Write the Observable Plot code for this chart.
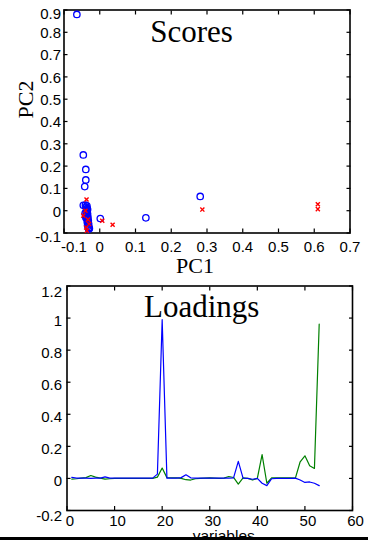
<!DOCTYPE html>
<html><head><meta charset="utf-8">
<script src="https://cdn.jsdelivr.net/npm/d3@7"></script>
<script src="https://cdn.jsdelivr.net/npm/@observablehq/plot@0.6"></script>
<style>
html,body{margin:0;padding:0;background:#fff;}
#wrap{position:relative;width:368px;height:540px;overflow:hidden;background:#fff;}
#topPlot{position:absolute;left:0;top:0;}
#botPlot{position:absolute;left:0;top:280px;}
#bar{position:absolute;left:0;top:537px;width:368px;height:3px;background:#000;}
</style></head><body>
<div id="wrap"><div id="topPlot"></div><div id="botPlot"></div><div id="bar"></div></div>
<script>
// ---- Scores data ----
const scoreX = [-0.064, -0.046, -0.039, -0.039, -0.042, -0.046, -0.040, -0.036, -0.038, -0.035, -0.034, -0.037, -0.038, -0.036, -0.034, -0.037, -0.035, -0.033, -0.036, -0.034, -0.032, -0.035, -0.033, -0.031, -0.034, -0.032, -0.030, -0.029, -0.031, -0.041, -0.039, 0.0015, 0.129, 0.281];
const scoreY = [0.88, 0.25, 0.185, 0.138, 0.108, 0.024, 0.025, 0.022, 0.015, 0.010, 0.005, 0.000, -0.005, -0.010, -0.015, -0.020, -0.025, -0.030, -0.035, -0.040, -0.045, -0.050, -0.055, -0.060, -0.065, -0.070, -0.075, -0.080, -0.082, -0.012, -0.030, -0.035, -0.032, 0.064];
const projX = [-0.037, -0.046, -0.040, -0.033, -0.036, -0.030, -0.038, 0.007, 0.036, 0.287, 0.61, 0.61];
const projY = [0.05, -0.022, 0.0, -0.04, -0.09, -0.06, -0.075, -0.045, -0.063, 0.005, 0.029, 0.007];
const scoreXTicks = [-0.1, 0, 0.1, 0.2, 0.3, 0.4, 0.5, 0.6, 0.7];
const scoreYTicks = [-0.1, 0, 0.1, 0.2, 0.3, 0.4, 0.5, 0.6, 0.7, 0.8, 0.9];

// ---- Loadings data (variables 1..53) ----
const loadBlue = [0.006, 0.002, 0.002, 0.002, 0.0, 0.002, 0.002, 0.01, 0.002, 0.002, 0.002, 0.002, 0.002, 0.002, 0.002, 0.002, 0.002, 0.002, 0.027, 0.99, 0.002, 0.002, 0.002, 0.005, 0.023, 0.004, 0.002, 0.002, 0.002, 0.002, 0.002, 0.002, 0.002, 0.002, 0.003, 0.106, 0.002, 0.0, -0.005, 0.0, -0.03, -0.045, -0.002, 0.0, 0.0, 0.0, 0.0, 0.002, -0.01, -0.025, -0.022, -0.03, -0.045];
const loadGreen = [-0.004, -0.002, 0.002, 0.005, 0.018, 0.008, 0.002, -0.004, -0.002, 0.0, 0.0, 0.0, 0.0, 0.0, 0.0, 0.0, 0.0, 0.0, 0.008, 0.065, 0.005, 0.004, 0.003, 0.0, -0.008, -0.01, -0.002, 0.0, 0.002, 0.003, 0.002, 0.0, 0.002, 0.012, 0.006, -0.035, 0.004, 0.0, -0.01, 0.0, 0.148, -0.03, 0.004, 0.004, 0.004, 0.003, 0.003, 0.002, 0.104, 0.141, 0.079, 0.062, 0.962];
const loadXTicks = [0, 10, 20, 30, 40, 50, 60];
const loadYTicks = [-0.2, 0, 0.2, 0.4, 0.6, 0.8, 1, 1.2];

const fmt = d => String(Math.round(d * 10) / 10);
const blank = () => "";
const sans = "'Liberation Sans', Arial, Helvetica, sans-serif";
const serif = "'Liberation Serif', 'Times New Roman', serif";

const scores = scoreX.map((x, i) => ({x, y: scoreY[i]}));
const proj = projX.map((x, i) => ({x, y: projY[i]}));
const blueL = loadBlue.map((y, i) => ({v: i + 1, y}));
const greenL = loadGreen.map((y, i) => ({v: i + 1, y}));

function boxAxes(xt, yt) {
  return [
    Plot.axisX(xt, {anchor: "bottom", tickSize: -4, tickFormat: blank, label: null, strokeWidth: 1.2}),
    Plot.axisX(xt, {anchor: "top", tickSize: -4, tickFormat: blank, label: null, strokeWidth: 1.2}),
    Plot.axisY(yt, {anchor: "left", tickSize: -4, tickFormat: blank, label: null, strokeWidth: 1.2}),
    Plot.axisY(yt, {anchor: "right", tickSize: -4, tickFormat: blank, label: null, strokeWidth: 1.2}),
    Plot.frame({stroke: "#000", strokeWidth: 1.6})
  ];
}

const topChart = Plot.plot({
  width: 368, height: 280,
  marginTop: 9.5, marginBottom: 47.5, marginLeft: 63.5, marginRight: 18.5,
  x: {domain: [-0.1, 0.7]},
  y: {domain: [-0.1, 0.9]},
  style: {fontFamily: sans, fontSize: "15px", color: "#000", background: "#fff", overflow: "visible"},
  marks: [
    ...boxAxes(scoreXTicks, scoreYTicks),
    Plot.axisX(scoreXTicks.slice(1), {anchor: "bottom", tickSize: 0, tickPadding: 8, tickFormat: fmt, label: null, fontSize: 15}),
    Plot.axisX(scoreXTicks.slice(0, 1), {anchor: "bottom", tickSize: 0, tickPadding: 8, tickFormat: fmt, label: null, fontSize: 15, dx: 10}),
    Plot.axisY(scoreYTicks.slice(1, -1), {anchor: "left", tickSize: 0, tickPadding: 3, tickFormat: fmt, label: null, fontSize: 15, dy: 1}),
    Plot.axisY([scoreYTicks[0], scoreYTicks[scoreYTicks.length - 1]], {anchor: "left", tickSize: 0, tickPadding: 3, tickFormat: fmt, label: null, fontSize: 15, dy: 4.5}),
    Plot.dot(scores, {x: "x", y: "y", r: 3.2, stroke: "#0000ff", strokeWidth: 1.3, fill: "none"}),
    Plot.dot(proj, {x: "x", y: "y", r: 2, symbol: "times", stroke: "#ff0000", strokeWidth: 1.4}),
    Plot.text(["Scores"], {frameAnchor: "top", lineAnchor: "bottom", dx: -15.5, dy: 31.5, fontSize: 31, fontFamily: serif, fill: "#000"}),
    Plot.text(["PC1"], {frameAnchor: "bottom", lineAnchor: "bottom", dx: -12, dy: 39.5, fontSize: 22, fontFamily: serif, fill: "#000"}),
    Plot.text(["PC2"], {frameAnchor: "left", lineAnchor: "bottom", rotate: -90, dx: -31.5, dy: -3, fontSize: 22, fontFamily: serif, fill: "#000"})
  ]
});
document.getElementById("topPlot").appendChild(topChart);

const botChart = Plot.plot({
  width: 368, height: 260,
  marginTop: 5.5, marginBottom: 30, marginLeft: 66.5, marginRight: 16,
  x: {domain: [0, 60]},
  y: {domain: [-0.2, 1.2]},
  style: {fontFamily: sans, fontSize: "15px", color: "#000", background: "#fff", overflow: "visible"},
  marks: [
    ...boxAxes(loadXTicks, loadYTicks),
    Plot.axisX(loadXTicks, {anchor: "bottom", tickSize: 0, tickPadding: 5, tickFormat: fmt, label: null, fontSize: 15, dx: 3}),
    Plot.axisY(loadYTicks.slice(1, -1), {anchor: "left", tickSize: 0, tickPadding: 5, tickFormat: fmt, label: null, fontSize: 15, dy: 3}),
    Plot.axisY([loadYTicks[0], loadYTicks[loadYTicks.length - 1]], {anchor: "left", tickSize: 0, tickPadding: 5, tickFormat: fmt, label: null, fontSize: 15, dy: 6}),
    Plot.line(greenL, {x: "v", y: "y", stroke: "#008000", strokeWidth: 1.2}),
    Plot.line(blueL, {x: "v", y: "y", stroke: "#0000ff", strokeWidth: 1.2}),
    Plot.text(["Loadings"], {frameAnchor: "top", lineAnchor: "bottom", dx: -8, dy: 30.5, fontSize: 31, fontFamily: serif, fill: "#000"}),
    Plot.text(["variables"], {frameAnchor: "bottom", lineAnchor: "bottom", dx: 14, dy: 30, fontSize: 15.5, fontFamily: sans, fill: "#000"})
  ]
});
document.getElementById("botPlot").appendChild(botChart);
</script>
</body></html>
